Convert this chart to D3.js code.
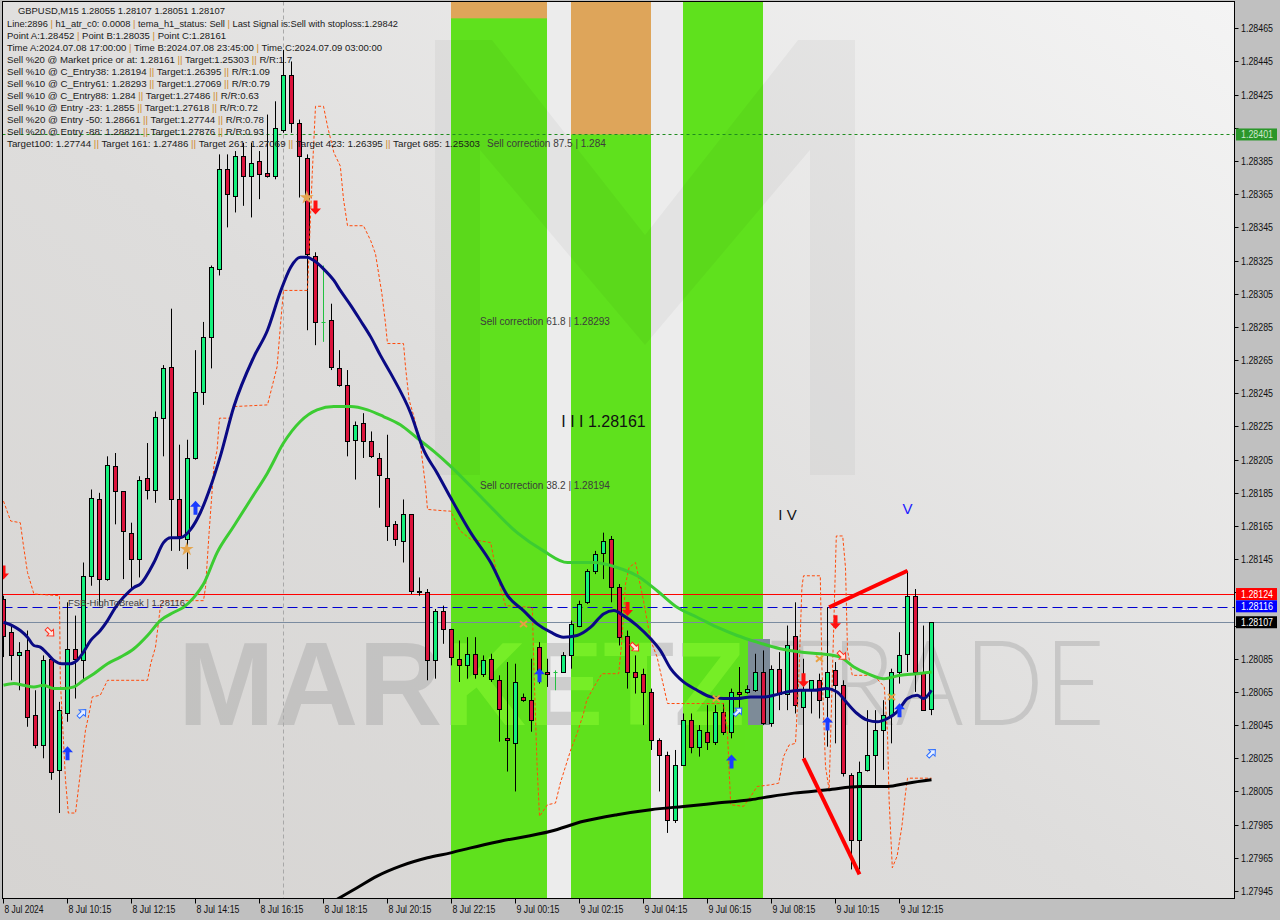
<!DOCTYPE html>
<html><head><meta charset="utf-8">
<script src="https://cdn.jsdelivr.net/npm/d3@7"></script>
<style>html,body{margin:0;padding:0;background:#c0c0c0;}svg{display:block;font-family:"Liberation Sans",Arial,sans-serif;}</style>
</head><body><svg id="c" width="1280" height="920"></svg>
<script>
// ---------------- DATA ----------------
const xTickIdx = [0,8,16,24,32,40,48,56,64,72,80,88,96,104,112];
const xTickLabels = ["8 Jul 2024","8 Jul 10:15","8 Jul 12:15","8 Jul 14:15","8 Jul 16:15","8 Jul 18:15","8 Jul 20:15","8 Jul 22:15","9 Jul 00:15","9 Jul 02:15","9 Jul 04:15","9 Jul 06:15","9 Jul 08:15","9 Jul 10:15","9 Jul 12:15"];
const yTickVals = [1.28465,1.28445,1.28425,1.28405,1.28385,1.28365,1.28345,1.28325,1.28305,1.28285,1.28265,1.28245,1.28225,1.28205,1.28185,1.28165,1.28145,1.28125,1.28105,1.28085,1.28065,1.28045,1.28025,1.28005,1.27985,1.27965,1.27945];

const open = [1.28121,1.28101,1.28087,1.28090,1.28051,1.28033,1.28085,1.28018,1.28052,1.28091,1.28084,1.28135,1.28181,1.28133,1.28201,1.28186,1.28161,1.28145,1.28194,1.28187,1.28230,1.28261,1.28181,1.28157,1.28206,1.28246,1.28279,1.28320,1.28380,1.28364,1.28388,1.28376,1.28385,1.28378,1.28376,1.28404,1.28437,1.28408,1.28387,1.28328,1.28288,1.28289,1.28260,1.28250,1.28217,1.28227,1.28216,1.28206,1.28194,1.28166,1.28156,1.28172,1.28126,1.28125,1.28084,1.28114,1.28103,1.28085,1.28081,1.28088,1.28076,1.28085,1.28072,1.28037,1.28034,1.28062,1.28060,1.28092,1.28077,1.28077,1.28077,1.28087,1.28105,1.28119,1.28138,1.28149,1.28157,1.28128,1.28099,1.28077,1.28076,1.28065,1.28036,1.28027,1.27988,1.28021,1.28048,1.28032,1.28041,1.28035,1.28053,1.28041,1.28065,1.28065,1.28066,1.28077,1.28046,1.28079,1.28064,1.28099,1.28056,1.28067,1.28072,1.28062,1.28078,1.28069,1.28015,1.27976,1.28018,1.28027,1.28042,1.28051,1.28077,1.28088,1.28123,1.28077,1.28055];
const high = [1.28123,1.28106,1.28095,1.28102,1.28066,1.28087,1.28086,1.28059,1.28119,1.28111,1.28143,1.28187,1.28185,1.28207,1.28209,1.28186,1.28167,1.28195,1.28215,1.28234,1.28262,1.28296,1.28214,1.28217,1.28271,1.28288,1.28322,1.28389,1.28389,1.28391,1.28396,1.28396,1.28391,1.28413,1.28421,1.28452,1.28445,1.28410,1.28389,1.28330,1.28322,1.28299,1.28271,1.28259,1.28228,1.28233,1.28222,1.28209,1.28220,1.28168,1.28181,1.28172,1.28134,1.28127,1.28115,1.28117,1.28103,1.28096,1.28098,1.28098,1.28087,1.28088,1.28075,1.28083,1.28082,1.28064,1.28085,1.28095,1.28085,1.28078,1.28089,1.28108,1.28120,1.28139,1.28150,1.28161,1.28159,1.28130,1.28102,1.28087,1.28079,1.28067,1.28037,1.28029,1.28030,1.28052,1.28052,1.28045,1.28057,1.28057,1.28058,1.28067,1.28080,1.28069,1.28088,1.28090,1.28081,1.28089,1.28105,1.28119,1.28085,1.28072,1.28076,1.28116,1.28083,1.28072,1.28016,1.28023,1.28054,1.28054,1.28060,1.28079,1.28101,1.28138,1.28127,1.28105,1.28107];
const low = [1.28086,1.28072,1.28066,1.28044,1.28031,1.28025,1.28012,1.27992,1.28047,1.28061,1.28072,1.28129,1.28117,1.28132,1.28166,1.28133,1.28127,1.28134,1.28181,1.28179,1.28207,1.28150,1.28150,1.28139,1.28205,1.28238,1.28260,1.28316,1.28345,1.28354,1.28358,1.28351,1.28362,1.28375,1.28374,1.28402,1.28402,1.28363,1.28283,1.28274,1.28276,1.28259,1.28249,1.28207,1.28193,1.28206,1.28206,1.28176,1.28156,1.28153,1.28143,1.28124,1.28123,1.28072,1.28073,1.28094,1.28081,1.28071,1.28073,1.28073,1.28074,1.28071,1.28035,1.28017,1.28005,1.28059,1.28041,1.28070,1.28068,1.28066,1.28077,1.28079,1.28104,1.28118,1.28136,1.28133,1.28119,1.28093,1.28067,1.28064,1.28045,1.28030,1.28005,1.27980,1.27986,1.28021,1.28028,1.28026,1.28030,1.28033,1.28039,1.28037,1.28052,1.28064,1.28065,1.28045,1.28044,1.28054,1.28054,1.28052,1.28025,1.28052,1.28049,1.28032,1.28034,1.28014,1.27958,1.27958,1.28017,1.28008,1.28018,1.28034,1.28070,1.28077,1.28065,1.28054,1.28051];
const close = [1.28099,1.28087,1.28089,1.28050,1.28033,1.28084,1.28017,1.28054,1.28091,1.28085,1.28135,1.28182,1.28133,1.28202,1.28186,1.28162,1.28145,1.28193,1.28187,1.28231,1.28260,1.28181,1.28159,1.28206,1.28246,1.28279,1.28321,1.28380,1.28365,1.28388,1.28376,1.28384,1.28377,1.28376,1.28405,1.28437,1.28408,1.28388,1.28329,1.28288,1.28288,1.28261,1.28250,1.28216,1.28226,1.28216,1.28207,1.28196,1.28165,1.28157,1.28172,1.28126,1.28125,1.28084,1.28114,1.28103,1.28086,1.28081,1.28088,1.28076,1.28084,1.28073,1.28055,1.28036,1.28071,1.28060,1.28048,1.28077,1.28076,1.28077,1.28087,1.28106,1.28118,1.28138,1.28148,1.28156,1.28128,1.28098,1.28077,1.28074,1.28065,1.28036,1.28027,1.27988,1.28021,1.28048,1.28032,1.28042,1.28035,1.28053,1.28041,1.28065,1.28064,1.28067,1.28077,1.28046,1.28079,1.28064,1.28093,1.28057,1.28067,1.28072,1.28060,1.28077,1.28069,1.28016,1.27976,1.28017,1.28027,1.28042,1.28051,1.28077,1.28087,1.28123,1.28077,1.28054,1.28107];

// indicator lines: [candle index, price]
const navyIdx = [0,1.1,2.1,3,3.8,4.6,5.5,6.3,7.3,8.4,9.2,10,10.9,12.1,13,14,15,16.3,17.1,18.8,20,20.9,22.1,23.4,24.6,25.9,27.1,28.8,31.3,33,34.6,35.9,37.1,37.9,38.8,40,41.3,42.1,43.4,44.6,45.9,47.1,48.4,50.9,52.5,54.2,55.9,58.4,60.9,63,65,66.7,68.4,70,71.7,73.4,75,76.3,77.5,79.2,80.9,82.1,83.4,85,86.7,88.4,90,91.7,93.4,95,96.3,97.9,99.6,101.3,102.9,104.2,105.5,106.7,108,109.2,110.5,111.7,113,114.2,115,116];
const navyVal = [1.28107,1.28105,1.28102,1.28098,1.28093,1.28092,1.28088,1.28084,1.28082,1.28082,1.28084,1.28089,1.28096,1.28102,1.28108,1.28116,1.28122,1.28128,1.28130,1.28143,1.28155,1.28158,1.28158,1.28163,1.28173,1.28189,1.28207,1.28237,1.28267,1.28283,1.28306,1.28321,1.28327,1.28327,1.28325,1.28320,1.28313,1.28307,1.28298,1.28289,1.28279,1.28268,1.28257,1.28233,1.28211,1.28197,1.28182,1.28161,1.28143,1.28123,1.28114,1.28106,1.28101,1.28098,1.28099,1.28104,1.28112,1.28114,1.28111,1.28105,1.28097,1.28090,1.28079,1.28071,1.28066,1.28062,1.28061,1.28061,1.28062,1.28062,1.28063,1.28065,1.28066,1.28066,1.28067,1.28065,1.28058,1.28052,1.28048,1.28047,1.28049,1.28053,1.28061,1.28063,1.28061,1.28066];
const greenIdx = [0,1.3,2.5,3.8,5,6.3,7.5,8.8,10,11.3,13,14.6,16.3,18,19.6,21.3,22.5,23.8,25,26.7,28.8,30.9,33,35,37.1,39.2,41.3,43.4,45.5,47.5,49.6,51.7,53.8,55.9,60,64.2,67.5,70.5,73.8,76.7,79.2,81.7,84.2,86.7,89.2,91.7,94.2,97.1,99.6,102.1,104.6,106.3,108,110,112.1,114.2,116];
const greenVal = [1.28069,1.28070,1.28069,1.28068,1.28069,1.28067,1.28067,1.28068,1.28072,1.28076,1.28082,1.28086,1.28091,1.28099,1.28108,1.28113,1.28116,1.28122,1.28130,1.28149,1.28165,1.28181,1.28197,1.28215,1.28228,1.28235,1.28237,1.28237,1.28235,1.28231,1.28226,1.28218,1.28210,1.28201,1.28181,1.28161,1.28150,1.28143,1.28143,1.28140,1.28135,1.28126,1.28116,1.28110,1.28104,1.28099,1.28095,1.28091,1.28089,1.28088,1.28086,1.28080,1.28076,1.28073,1.28075,1.28076,1.28077];
const blackIdx = [41.7,44.2,46.7,49.6,53,55.9,58.4,62.1,68.4,72.5,76.7,80.9,85,89.2,93.4,95.9,98.8,103,107.1,110.5,113,116];
const blackVal = [1.27940,1.27947,1.27954,1.27960,1.27965,1.27968,1.27971,1.27975,1.27981,1.27987,1.27991,1.27994,1.27996,1.27998,1.28000,1.28002,1.28004,1.28006,1.28008,1.28008,1.28010,1.28012];
const envIdx = [0,0.9,2.1,2.5,3,3.8,7,7.1,7.75,8.1,9,9.6,10.25,10.7,11.1,12.1,13,18,18.4,19,19.6,20,25,25.25,25.7,26.3,26.7,27,28.4,28.8,33,34.2,34.6,35,38,38.6,39,40,40.5,41.3,42.1,42.5,43,45,45.9,46.5,46.9,47.3,47.75,48,50,50.25,50.7,51.3,52.1,52.75,53,55.5,55.9,57.1,58.4,60.9,61.5,62.1,62.75,66.1,66.3,66.7,67,68,69,69.6,70.25,70.9,71.7,72.5,72.9,73.8,74.8,76.9,77.3,77.75,78.2,79,79.4,80,80.9,81.7,83,87.5,90,90.5,90.9,92.5,93.4,94.2,95.9,96.9,97.5,98.2,99,99.4,99.8,100,102.1,102.3,102.75,103.2,103.4,103.8,104.1,104.9,105.25,105.5,106.1,108.8,110.1,110.5,110.7,111.1,111.7,112.3,112.75,113,116];
const envVal = [1.28180,1.28168,1.28167,1.28153,1.28137,1.28124,1.28123,1.28072,1.28012,1.27992,1.27992,1.28016,1.28042,1.28052,1.28062,1.28063,1.28072,1.28072,1.28082,1.28092,1.28116,1.28120,1.28120,1.28128,1.28161,1.28201,1.28211,1.28230,1.28230,1.28237,1.28238,1.28261,1.28285,1.28307,1.28307,1.28378,1.28418,1.28418,1.28406,1.28390,1.28382,1.28362,1.28346,1.28346,1.28337,1.28329,1.28317,1.28305,1.28287,1.28275,1.28275,1.28261,1.28241,1.28231,1.28215,1.28189,1.28175,1.28174,1.28174,1.28162,1.28157,1.28155,1.28140,1.28128,1.28117,1.28116,1.28080,1.28020,1.27990,1.27997,1.27998,1.28010,1.28020,1.28030,1.28040,1.28052,1.28060,1.28068,1.28076,1.28076,1.28096,1.28130,1.28140,1.28143,1.28134,1.28120,1.28096,1.28086,1.28058,1.28058,1.28058,1.28040,1.27997,1.27996,1.28002,1.28008,1.28009,1.28010,1.28026,1.28033,1.28034,1.28072,1.28128,1.28135,1.28135,1.28080,1.28020,1.28006,1.28040,1.28108,1.28159,1.28159,1.28140,1.28090,1.28075,1.28075,1.28068,1.28040,1.28000,1.27959,1.27966,1.27984,1.28004,1.28013,1.28013];

// zigzag pattern lines
const zigA = [[100,1.28025],[107,1.27955]];
const zigB = [[103.2,1.28116],[113,1.28138]];

// levels
const levelRed = 1.28124, levelBlue = 1.28116, levelSlate = 1.28107, levelGreen = 1.28401;
const timeAIdx = 35;

// shaded zones (candle index ranges), orange caps
const bandStart = [56,71,85];
const bandEnd = [68,81,95];
const bandCapLow = [1.28471,1.28401,null];

// markers
const blueUpIdx = [8,24,67,91,103,112];
const blueUpVal = [1.28028,1.28176,1.28075,1.28023,1.28046,1.28054];
const redDownIdx = [0,39,78,100,104];
const redDownVal = [1.28137,1.28357,1.28115,1.28072,1.28107];
const redHollowIdx = [5.8,78.9,104.8];
const redHollowVal = [1.28101,1.28092,1.28087];
const blueHollowIdx = [9.8,91.8,116];
const blueHollowVal = [1.28052,1.28053,1.28028];
const starIdx = [22.9,37.9];
const starVal = [1.28151,1.28363];
const crossIdx = [65,89.1,102,111];
const crossVal = [1.28106,1.28061,1.28085,1.28062];

const infoLines = [
"GBPUSD,M15  1.28055 1.28107 1.28051 1.28107",
"Line:2896 | h1_atr_c0: 0.0008 | tema_h1_status: Sell | Last Signal is:Sell with stoploss:1.29842",
"Point A:1.28452 | Point B:1.28035 | Point C:1.28161",
"Time A:2024.07.08 17:00:00 | Time B:2024.07.08 23:45:00 | Time C:2024.07.09 03:00:00",
"Sell %20 @ Market price or at: 1.28161 || Target:1.25303 || R/R:1.7",
"Sell %10 @ C_Entry38: 1.28194 || Target:1.26395 || R/R:1.09",
"Sell %10 @ C_Entry61: 1.28293 || Target:1.27069 || R/R:0.79",
"Sell %10 @ C_Entry88: 1.284 || Target:1.27486 || R/R:0.63",
"Sell %10 @ Entry -23: 1.2855 || Target:1.27618 || R/R:0.72",
"Sell %20 @ Entry -50: 1.28661 || Target:1.27744 || R/R:0.78",
"Sell %20 @ Entry -88: 1.28821 || Target:1.27876 || R/R:0.93",
"Target100: 1.27744 || Target 161: 1.27486 || Target 261: 1.27069 || Target 423: 1.26395 || Target 685: 1.25303"
];
const corrLabels = ["Sell correction 87.5 | 1.284","Sell correction 61.8 | 1.28293","Sell correction 38.2 | 1.28194"];
const corrPrice = [1.284,1.28293,1.28194];
const waveLabels = ["I I I 1.28161","I V","V"];
const waveIdx = [75,98,113];
const waveVal = [1.28228,1.28172,1.28176];
const fsbLabel = "FSB-HighToBreak | 1.28116";
const boxVals = [1.28401,1.28124,1.28116,1.28107];

// ---------------- LAYOUT ----------------
const svg = d3.select("#c");
const L = 2.5, T = 1.5, R = 1234.5, B = 898.5;
const x = d3.scaleLinear().domain([0,154]).range([3.5,3.5+8*154]);
const y = d3.scaleLinear().domain([1.27945,1.28465]).range([891,28.3]);

const defs = svg.append("defs");
const grad = defs.append("linearGradient").attr("id","bg").attr("x1","0").attr("y1","1").attr("x2","1").attr("y2","0");
grad.append("stop").attr("offset","0").attr("stop-color","#d6d4d2");
grad.append("stop").attr("offset","0.45").attr("stop-color","#dedddc");
grad.append("stop").attr("offset","1").attr("stop-color","#f4f4f4");
defs.append("clipPath").attr("id","plot").append("rect").attr("x",L).attr("y",T).attr("width",R-L).attr("height",B-T);
const bandClip = defs.append("clipPath").attr("id","bands");
bandStart.forEach((s,k)=>bandClip.append("rect").attr("x",x(s)-0.5).attr("y",0).attr("width",x(bandEnd[k])-x(s)).attr("height",900));

svg.append("rect").attr("width",1280).attr("height",920).attr("fill","#c0c0c0");
svg.append("rect").attr("x",L).attr("y",T).attr("width",R-L).attr("height",B-T).attr("fill","url(#bg)");

const P = svg.append("g").attr("clip-path","url(#plot)");

// light zone behind bands
P.append("rect").attr("x",x(bandStart[0])-0.5).attr("y",T).attr("width",x(bandEnd[2])-x(bandStart[0])).attr("height",B-T).attr("fill","#ececec");

// watermark text (gray part)
const wm = P.append("g");
function drawWatermark(g, c1, c2, op){
  g.append("text").attr("x",178).attr("y",725).attr("font-size",119).attr("font-weight","bold")
   .attr("textLength",567).attr("lengthAdjust","spacingAndGlyphs").attr("fill",c1).attr("opacity",op).text("MARKETZ");
  g.append("text").attr("x",770).attr("y",725).attr("font-size",119).attr("font-family","Lato, 'Liberation Sans'").attr("font-weight",300)
   .attr("textLength",335).attr("lengthAdjust","spacingAndGlyphs").attr("fill",c2).attr("opacity",op).text("TRADE");
}
drawWatermark(wm,"#a4a4a4","#a4a4a4",0.42);

// bands
bandStart.forEach((s,k)=>{
  const x0 = x(s)-0.5, w = x(bandEnd[k])-x(s);
  P.append("rect").attr("x",x0).attr("y",T).attr("width",w).attr("height",B-T).attr("fill","#5fe11d");
  if(bandCapLow[k]!==null) P.append("rect").attr("x",x0).attr("y",T).attr("width",w).attr("height",y(bandCapLow[k])-T).attr("fill","#dea55a");
});
const wmG = P.append("g").attr("clip-path","url(#bands)");
drawWatermark(wmG,"#7cf22a","#7cf22a",0.8);
P.append("rect").attr("x",748).attr("y",639).attr("width",22).attr("height",86).attr("fill","#7d8b98");

// logo watermark
P.append("path").attr("d","M435,40L492,40L645,235L798,40L855,40L855,475L810,475L810,150L645,345L480,150L480,475L435,475Z")
 .attr("fill","#000").attr("opacity",0.035);

// levels
const hline=(v,c,dash,w)=>P.append("line").attr("x1",L).attr("x2",R).attr("y1",Math.round(y(v))+0.5).attr("y2",Math.round(y(v))+0.5)
  .attr("stroke",c).attr("stroke-width",w||1).attr("stroke-dasharray",dash||null);
hline(levelGreen,"#1e8c1e","3,3");
hline(levelSlate,"#7a8ba0");
hline(levelBlue,"#0000d0","10,5");
hline(levelRed,"#ff0000");
P.append("line").attr("x1",x(timeAIdx)).attr("x2",x(timeAIdx)).attr("y1",T).attr("y2",B).attr("stroke","#a8a8a8").attr("stroke-dasharray","4,3");

// candles
const idx = d3.range(open.length);
const cg = P.append("g");
idx.forEach(i=>{
  const cx = x(i);
  const doji = open[i]===close[i];
  const up = close[i]>open[i];
  const col = doji ? "#22d060" : (up ? "#14f07c" : "#dc143c");
  cg.append("line").attr("x1",cx).attr("x2",cx).attr("y1",y(high[i])).attr("y2",y(low[i])).attr("stroke",doji?"#22c040":"#000").attr("stroke-width",1);
  if(doji){
    cg.append("line").attr("x1",cx-2).attr("x2",cx+2).attr("y1",Math.round(y(open[i]))+0.5).attr("y2",Math.round(y(open[i]))+0.5).attr("stroke","#22c040");
  } else {
    const t = Math.round(y(Math.max(open[i],close[i]))), b = Math.round(y(Math.min(open[i],close[i])));
    cg.append("rect").attr("x",cx-2.5+0.5).attr("y",t+0.5).attr("width",4).attr("height",Math.max(1,b-t)).attr("fill",col).attr("stroke","#000").attr("stroke-width",1);
  }
});

// indicator lines
const lineGen = d3.line().x(d=>x(d[0])).y(d=>y(d[1]));
const mk = (a,b)=>a.map((v,k)=>[v,b[k]]);
P.append("path").attr("d",lineGen(mk(envIdx,envVal))).attr("fill","none").attr("stroke","#ff4a0a").attr("stroke-width",1).attr("stroke-dasharray","3,2");
P.append("path").attr("d",lineGen.curve(d3.curveMonotoneX)(mk(greenIdx,greenVal))).attr("fill","none").attr("stroke","#3ccc32").attr("stroke-width",3);
P.append("path").attr("d",lineGen.curve(d3.curveMonotoneX)(mk(blackIdx,blackVal))).attr("fill","none").attr("stroke","#000").attr("stroke-width",3);
P.append("path").attr("d",lineGen.curve(d3.curveMonotoneX)(mk(navyIdx,navyVal))).attr("fill","none").attr("stroke","#0a0a84").attr("stroke-width",3);
lineGen.curve(d3.curveLinear);
[zigA,zigB].forEach(z=>P.append("path").attr("d",lineGen(z)).attr("stroke","#ff0000").attr("stroke-width",4).attr("fill","none"));

// markers
const upPath = "M0,-7L5.5,-1L2,-1L2,7L-2,7L-2,-1L-5.5,-1Z";
blueUpIdx.forEach((v,k)=>P.append("path").attr("d",upPath).attr("transform",`translate(${x(v)},${y(blueUpVal[k])})`).attr("fill","#1a3cff"));
redDownIdx.forEach((v,k)=>P.append("path").attr("d",upPath).attr("transform",`translate(${x(v)},${y(redDownVal[k])}) rotate(180)`).attr("fill","#ff1010"));
const hollow = "M-5,-1.8L0.5,-1.8L0.5,-4.5L5.5,0L0.5,4.5L0.5,1.8L-5,1.8Z";
redHollowIdx.forEach((v,k)=>P.append("path").attr("d",hollow).attr("transform",`translate(${x(v)},${y(redHollowVal[k])}) rotate(45)`).attr("fill","#ffe8e0").attr("stroke","#ff3020"));
blueHollowIdx.forEach((v,k)=>P.append("path").attr("d",hollow).attr("transform",`translate(${x(v)},${y(blueHollowVal[k])}) rotate(-45)`).attr("fill","#e8f0ff").attr("stroke","#2a6cff"));
starIdx.forEach((v,k)=>P.append("path").attr("d",d3.symbol(d3.symbolStar,60)()).attr("transform",`translate(${x(v)},${y(starVal[k])})`).attr("fill","#e4a54e"));
crossIdx.forEach((v,k)=>{
  const g = P.append("g").attr("transform",`translate(${x(v)},${y(crossVal[k])})`).attr("stroke","#e8a040").attr("stroke-width",2);
  g.append("line").attr("x1",-3.5).attr("y1",-3).attr("x2",3.5).attr("y2",3);
  g.append("line").attr("x1",-3.5).attr("y1",3).attr("x2",3.5).attr("y2",-3);
});

// texts in chart
const corrX = [487,480,480];
corrLabels.forEach((t,k)=>P.append("text").attr("x",corrX[k]).attr("y",y(corrPrice[k])+11).attr("font-size",10).attr("fill","#3c3c3c").text(t));
const waveSize=[16,15,15], waveCol=["#111","#111","#1a1aff"];
waveLabels.forEach((t,k)=>P.append("text").attr("x",x(waveIdx[k])).attr("y",y(waveVal[k])+6).attr("text-anchor","middle").attr("font-size",waveSize[k]).attr("fill",waveCol[k]).text(t));
P.append("text").attr("x",68).attr("y",y(levelBlue)-1.5).attr("font-size",9.5).attr("fill","#3c3c3c").attr("textLength",117).attr("lengthAdjust","spacingAndGlyphs").text(fsbLabel);

// info block
const infoX=[18,7,7,7,7,7,7,7,7,7,7,7];
const infoW=[207,391,219,375,285,263,263,252,251,257,257,473];
const infoY=[14,27,39,51,63,75,87,99,111,123,135,147];
infoLines.forEach((line,k)=>{
  const t = svg.append("text").attr("x",infoX[k]).attr("y",infoY[k]).attr("font-size",9.5).attr("fill","#1a1a1a")
    .attr("textLength",infoW[k]).attr("lengthAdjust","spacingAndGlyphs");
  line.split(/(\|\|?)/).forEach(seg=>{
    t.append("tspan").attr("fill",seg.startsWith("|")?"#d08a2a":"#1a1a1a").text(seg);
  });
});

// frame
svg.append("rect").attr("x",L).attr("y",T).attr("width",R-L).attr("height",B-T).attr("fill","none").attr("stroke","#000");

// right axis (labels hidden behind value boxes are skipped)
yTickVals.forEach(v=>{
  const yy = Math.round(y(v))+0.5;
  svg.append("line").attr("x1",R).attr("x2",R+4).attr("y1",yy).attr("y2",yy).attr("stroke","#000");
  const covered = boxVals.some(b=>Math.abs(y(b)-y(v))<11);
  if(!covered) svg.append("text").attr("x",1241).attr("y",yy+3.5).attr("font-size",10).attr("fill","#111").attr("textLength",32).attr("lengthAdjust","spacingAndGlyphs").text(v.toFixed(5));
});
const boxBg=["#2a962a","#ff0000","#0000ff","#000000"], boxFg=["#cfe8cf","#ffffff","#ffffff","#ffffff"], boxShift=[0,0,-1,0];
boxVals.forEach((v,k)=>{
  const yy = y(v)+boxShift[k];
  svg.append("rect").attr("x",1236).attr("y",yy-6).attr("width",41).attr("height",12).attr("fill",boxBg[k]);
  svg.append("text").attr("x",1241).attr("y",yy+4).attr("font-size",10).attr("fill",boxFg[k]).attr("textLength",32).attr("lengthAdjust","spacingAndGlyphs").text(v.toFixed(5));
});

// bottom axis
xTickIdx.forEach((v,k)=>{
  const xx = Math.round(x(v)-0.5)+0.5;
  svg.append("line").attr("x1",xx).attr("x2",xx).attr("y1",B).attr("y2",B+5).attr("stroke","#000");
  svg.append("text").attr("x",xx+1).attr("y",913).attr("font-size",10).attr("fill","#111")
    .attr("textLength",xTickLabels[k].length*3.9).attr("lengthAdjust","spacingAndGlyphs").text(xTickLabels[k]);
});
</script></body></html>
